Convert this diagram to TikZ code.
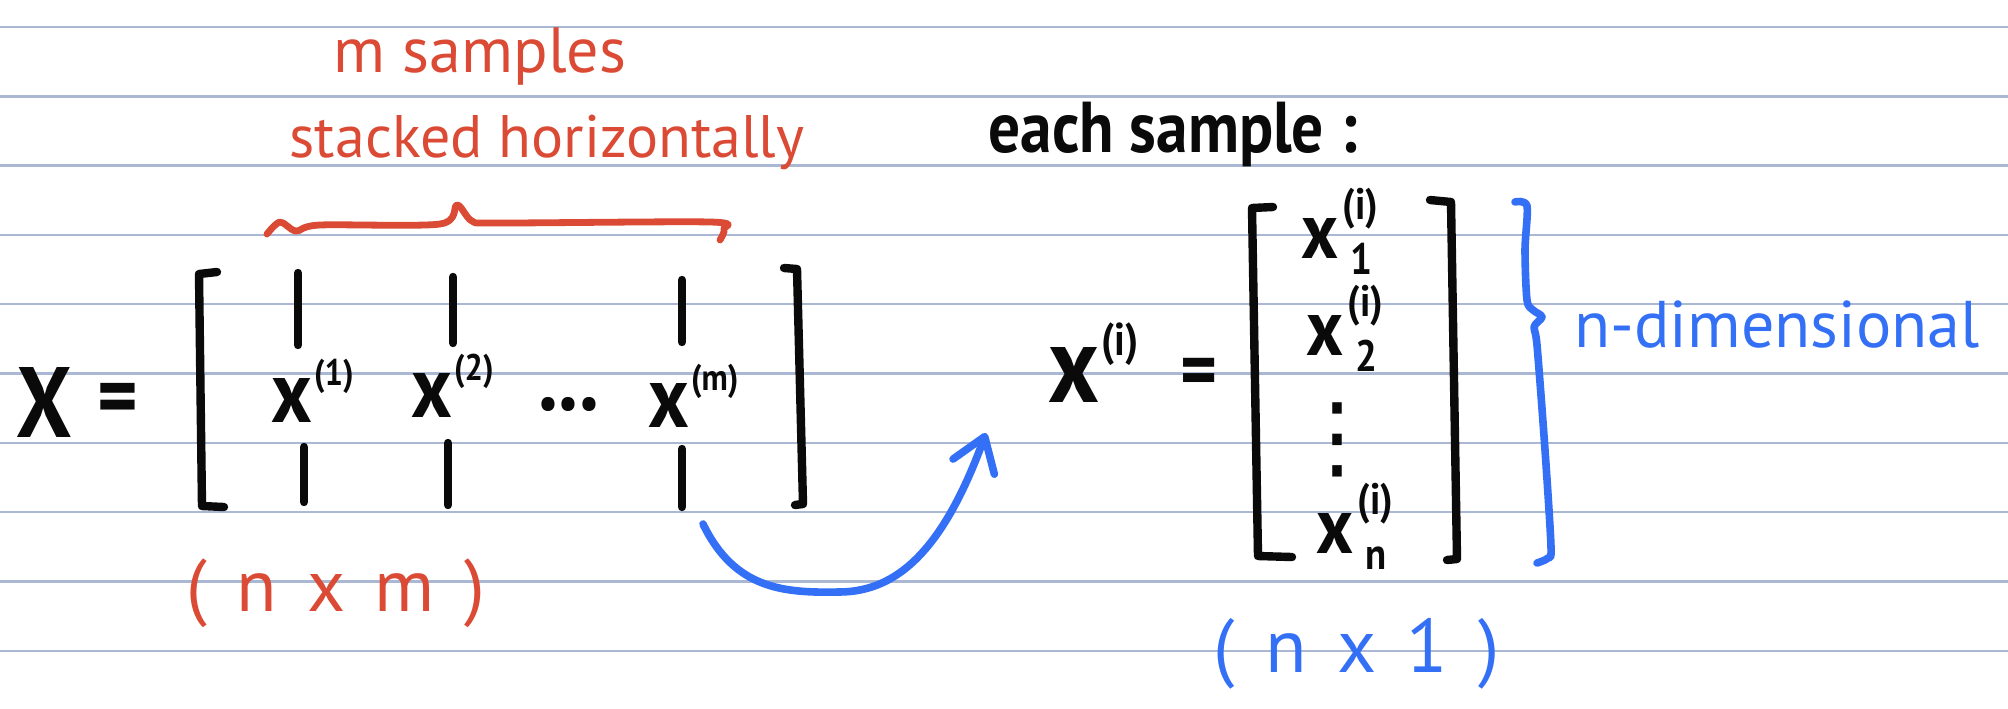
\documentclass[tikz,border=0pt]{standalone}
\usepackage{fontspec}
\usetikzlibrary{arrows.meta}
\setmainfont{PT Sans}
\newfontfamily\inkfont{PT Sans}[FakeStretch=0.88]
\newfontfamily\symfont{DejaVu Sans}
\definecolor{rule}{RGB}{170,184,212}
\definecolor{inkred}{RGB}{219,74,52}
\definecolor{inkblue}{RGB}{52,112,246}
\definecolor{ink}{RGB}{10,10,10}
\newcommand{\inksize}[1]{\fontsize{#1}{#1}\selectfont}
\newcommand{\xcol}[2][18.5]{x\kern1pt\raisebox{0.42em}{\inksize{#1}(#2)}}
\newcommand{\xent}[1]{x\kern2pt\rlap{\raisebox{0.48em}{\inksize{22}(i)}}\kern4pt\raisebox{-0.2em}{\inksize{22}#1}}

\tikzset{
  paper/.style={draw=rule, line width=1.2pt},
  pen/.style={draw=ink, line width=4.2pt, line cap=round, line join=round},
  redpen/.style={draw=inkred, line width=3.4pt, line cap=round, line join=round},
  bluepen/.style={draw=inkblue, line width=3.8pt, line cap=round, line join=round},
  blk/.style={text=ink, inner sep=0pt, font=\inkfont\bfseries\inksize{#1}},
  redtxt/.style={text=inkred, inner sep=0pt, font=\inksize{#1}},
  bluetxt/.style={text=inkblue, inner sep=0pt, font=\inksize{#1}},
}

\begin{document}
\begin{tikzpicture}[x=0.5pt, y=-0.5pt]
    \useasboundingbox (0,0) rectangle (2008,708);
    \fill[white] (0,0) rectangle (2008,708);
    \foreach \k in {0,...,9}
        \draw[paper] (0,{27+69.3*\k}) -- (2008,{27+69.3*\k});

    \node[redtxt=32, anchor=base] (msamp) at (480,72) {m samples};
    \node[redtxt=30, anchor=base] (stack) at (547,157) {stacked horizontally};
    \draw[redpen] plot[smooth, tension=0.5] coordinates {(267,234) (280,222) (296,231) (320,225) (440,224) (457,205) (472,221) (500,223) (710,222) (724,229) (720,240)};

    \node[blk=50, anchor=base] (X) at (44,437) {X};
    \node[blk=44, anchor=base] (eqX) at (118,426) {=};
    \node[blk=44, anchor=base west] (x1) at (271,422) {\xcol{1}};
    \node[blk=44, anchor=base west] (x2) at (411,417) {\xcol{2}};
    \node[blk=46, anchor=base] (hdots) at (569,410) {...};
    \node[blk=44, anchor=base west] (xm) at (648,427) {\xcol{m}};
    \node[redtxt=37, anchor=base] (dimX) at (336,611) {(\hspace{.4em}n\hspace{.4em}x\hspace{.4em}m\hspace{.4em})};

    \draw[pen] (217,272) -- (199,274) -- (202,506) -- (224,507);
    \draw[pen] (784,268) -- (797,269) -- (803,504) -- (795,505);
    \foreach \xx/\ya/\yb in {298/273/345, 453/277/343, 682/280/342, 304/447/502, 448/443/505, 682/449/507}
        \draw[pen] (\xx,\ya) -- (\xx,\yb);

    \coordinate (arrFrom) at (703,524);
    \coordinate (arrTo) at (986,433);
    \draw[bluepen, -{Straight Barb[length=16pt, width=22pt, round]}] (arrFrom) .. controls (735,590) and (785,593) .. (839,592) .. controls (900,592) and (945,545) .. (arrTo);

    \node[blk=36, anchor=base west] (each) at (988,152) {each sample :};
    \node[blk=55, anchor=base west] (xi) at (1048,402) {\xcol[23]{i}};
    \node[blk=40, anchor=base] (eqx) at (1199,397) {=};
    \node[blk=40, anchor=base west] (e1) at (1301,258) {\xent{1}};
    \node[blk=40, anchor=base west] (e2) at (1306,355) {\xent{2}};
    \node[text=ink, inner sep=0pt, font=\symfont\inksize{46}] (vdots) at (1337,440) {⋮};
    \node[blk=40, anchor=base west] (en) at (1316,553) {\xent{n}};

    \draw[pen] (1273,207) -- (1252,208) -- (1258,556) -- (1292,557);
    \draw[pen] (1430,200) -- (1451,202) -- (1457,559) -- (1447,560);

    \draw[bluepen] plot[smooth, tension=0.5] coordinates {(1515,202) (1527,206) (1525,250) (1527,300) (1533,310) (1542,317) (1534,327) (1537,345) (1545,450) (1551,547) (1548,558) (1537,563)};
    \node[bluetxt=33, anchor=base] (ndim) at (1777,347) {n-dimensional};
    \node[bluetxt=38, anchor=base] (dimx) at (1357,672) {(\hspace{.4em}n\hspace{.4em}x\hspace{.4em}1\hspace{.4em})};
\end{tikzpicture}
\end{document}
